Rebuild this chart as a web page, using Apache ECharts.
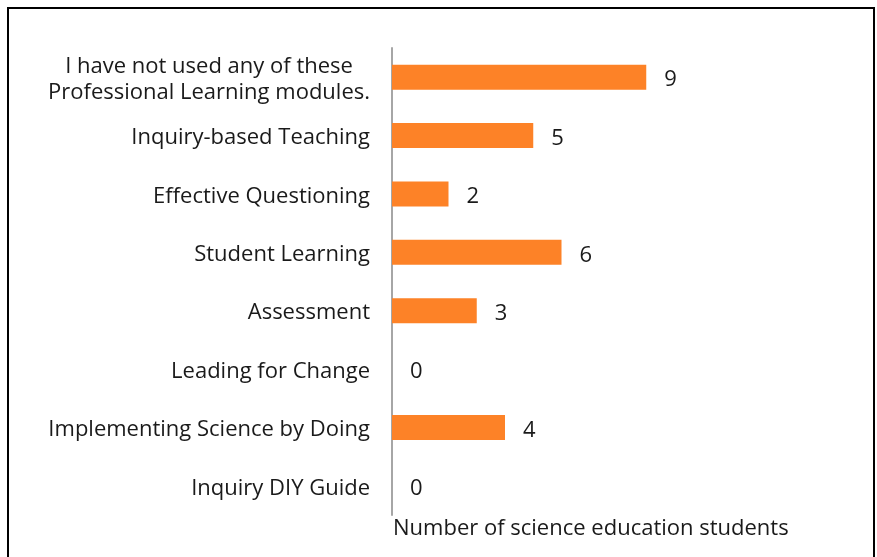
<!DOCTYPE html>
<html>
<head>
<meta charset="utf-8">
<script src="https://cdn.jsdelivr.net/npm/echarts@6/dist/echarts.min.js"></script>
<style>
  html, body { margin: 0; padding: 0; background: #fff; }
  #chart { width: 877px; height: 557px; }
</style>
</head>
<body>
<div id="chart"></div>
<script>
// categories, top to bottom as drawn
const categories = [
  'I have not used any of these\nProfessional Learning modules.',
  'Inquiry-based Teaching',
  'Effective Questioning',
  'Student Learning',
  'Assessment',
  'Leading for Change',
  'Implementing Science by Doing',
  'Inquiry DIY Guide'
]
const counts = [9, 5, 2, 6, 3, 0, 4, 0]
const axisTitle = 'Number of science education students'

const fontFamily = '"Open Sans", "Liberation Sans", sans-serif'
const barColor = '#fd8227'
const textColor = '#1a1a1a'

const chart = echarts.init(document.getElementById('chart'))

chart.setOption({
  animation: false,
  grid: { left: 392, right: 33, top: 48, bottom: 42, containLabel: false },
  graphic: [{
    type: 'rect',
    shape: { x: 8, y: 8, width: 866, height: 600 },
    style: { fill: 'none', stroke: '#000', lineWidth: 2 },
    silent: true
  }],
  xAxis: {
    type: 'value',
    min: 0,
    max: 16,
    axisLine: { show: false },
    axisTick: { show: false },
    axisLabel: { show: false },
    splitLine: { show: false },
    name: axisTitle,
    nameLocation: 'start',
    nameGap: -1,
    nameTextStyle: {
      align: 'left',
      verticalAlign: 'top',
      padding: [3, 0, 0, 0],
      fontSize: 22,
      color: textColor,
      fontFamily
    }
  },
  yAxis: {
    type: 'category',
    inverse: true,
    data: categories,
    axisLine: { show: true, lineStyle: { color: '#a6a6a6', width: 2 } },
    axisTick: { show: false },
    axisLabel: {
      margin: 22,
      fontSize: 22,
      color: textColor,
      fontFamily,
      lineHeight: 26,
      padding: [5, 0, 0, 0],
      formatter: v => v.split('\n').map(l => '{c|' + l + '}').join('\n'),
      rich: {
        c: { align: 'center', fontSize: 22, lineHeight: 26, color: textColor, fontFamily }
      }
    }
  },
  series: [{
    type: 'bar',
    data: counts,
    barWidth: 25,
    itemStyle: { color: barColor },
    label: {
      show: true,
      position: 'right',
      distance: 18,
      offset: [0, 3],
      fontSize: 22,
      color: textColor,
      fontFamily
    }
  }]
})
</script>
</body>
</html>
